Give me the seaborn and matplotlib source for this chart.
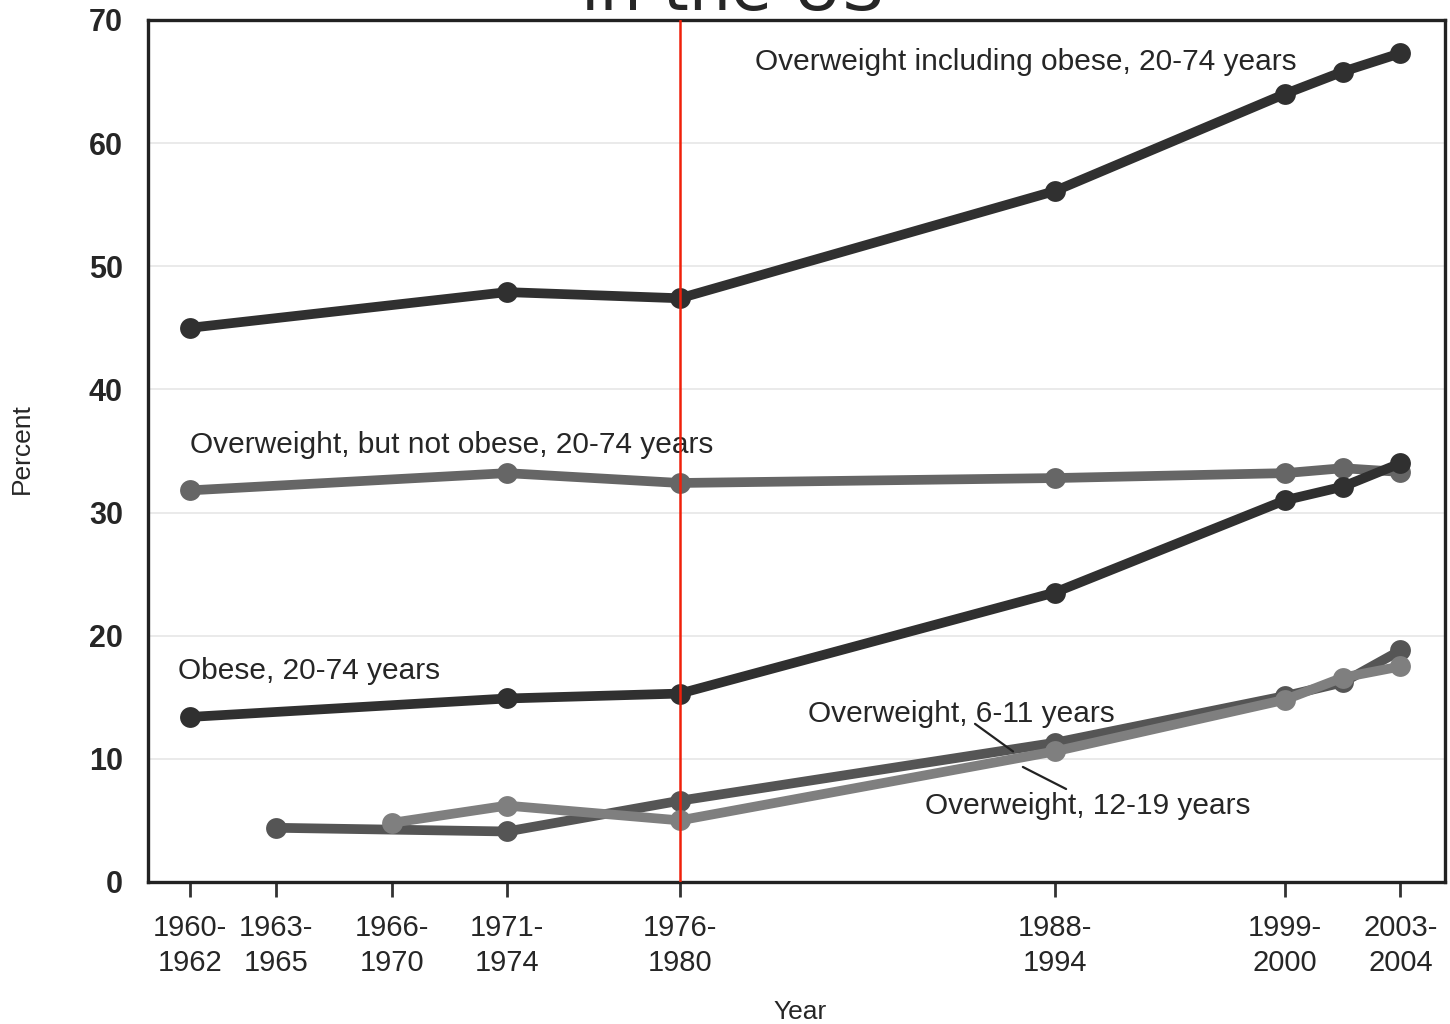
import matplotlib
matplotlib.use("Agg")
import matplotlib.pyplot as plt
import seaborn as sns
import pandas as pd

# ---- data ----
tick_pos = [1961, 1964, 1968, 1972, 1978, 1991, 1999, 2003]
tick_labels = ["1960-\n1962", "1963-\n1965", "1966-\n1970", "1971-\n1974",
               "1976-\n1980", "1988-\n1994", "1999-\n2000", "2003-\n2004"]

adult_x = [1961, 1972, 1978, 1991, 1999, 2001, 2003]
ow_incl_obese = [45.0, 47.9, 47.4, 56.1, 64.0, 65.8, 67.3]
ow_not_obese = [31.8, 33.2, 32.4, 32.8, 33.2, 33.6, 33.3]
obese = [13.4, 14.9, 15.3, 23.5, 31.0, 32.1, 34.0]

child_x = [1964, 1972, 1978, 1991, 1999, 2001, 2003]
ow_6_11 = [4.4, 4.1, 6.6, 11.3, 15.1, 16.2, 18.8]

teen_x = [1968, 1972, 1978, 1991, 1999, 2001, 2003]
ow_12_19 = [4.8, 6.2, 5.0, 10.6, 14.8, 16.6, 17.5]

series = [
    ("Overweight, but not obese, 20-74 years", adult_x, ow_not_obese, "#666666"),
    ("Overweight, 6-11 years", child_x, ow_6_11, "#555555"),
    ("Overweight, 12-19 years", teen_x, ow_12_19, "#7f7f7f"),
    ("Obese, 20-74 years", adult_x, obese, "#303030"),
    ("Overweight including obese, 20-74 years", adult_x, ow_incl_obese, "#303030"),
]

sns.set_style("white")
plt.rcParams['font.family'] = ['Liberation Sans', 'DejaVu Sans']

fig = plt.figure(figsize=(14.5, 10.24), dpi=100)
ax = fig.add_axes([0.102, 0.1387, 0.8946, 0.8418])

for name, xs, ys, col in series:
    df = pd.DataFrame({"x": xs, "y": ys})
    sns.lineplot(data=df, x="x", y="y", ax=ax, color=col, linewidth=7,
                 marker="o", markersize=15, markeredgewidth=0, sort=False,
                 errorbar=None)

ax.axvline(1978, color="#f0200a", linewidth=1.8, zorder=10)

ax.set_xlim(1959.54, 2004.55)
ax.set_ylim(0, 70)
ax.set_yticks(range(0, 71, 10))
ax.set_xticks(tick_pos)
ax.set_xticklabels(tick_labels, fontsize=21, linespacing=1.3)
ax.tick_params(axis="x", direction="out", length=11, width=2, color="#333333",
               pad=12, bottom=True)
ax.tick_params(axis="y", length=0, pad=18, labelsize=22)
for lab in ax.get_yticklabels():
    lab.set_fontweight("bold")
ax.yaxis.grid(True, color="#e6e6e6", linewidth=1.2)
ax.set_axisbelow(True)
for s in ax.spines.values():
    s.set_color("#222222")
    s.set_linewidth(2.4)
    s.set_visible(True)

ax.set_xlabel("Year", fontsize=19)
ax.set_ylabel("Percent", fontsize=19)
ax.xaxis.set_label_coords(0.503, -0.137)
ax.yaxis.set_label_coords(-0.088, 0.503)

ax.text(1980.6, 66.6, "Overweight including obese, 20-74 years", fontsize=21.5,
        va="center", ha="left")
ax.text(1961.0, 35.5, "Overweight, but not obese, 20-74 years", fontsize=21.5,
        va="center", ha="left")
ax.text(1960.58, 17.1, "Obese, 20-74 years", fontsize=21.5, va="center", ha="left")
ax.text(1982.44, 13.6, "Overweight, 6-11 years", fontsize=21.5, va="center", ha="left")
ax.text(1986.5, 6.2, "Overweight, 12-19 years", fontsize=21.5, va="center", ha="left")
ax.plot([1988.24, 1989.56], [12.84, 10.6], color="#222222", linewidth=1.6, zorder=5)
ax.plot([1989.9, 1991.4], [9.34, 7.55], color="#222222", linewidth=1.6, zorder=5)

fig.text(0.505, 0.9902, "in the US", fontsize=48, ha="center", va="baseline",
         family=["DejaVu Sans"])

fig.savefig("out.png", dpi=100)
